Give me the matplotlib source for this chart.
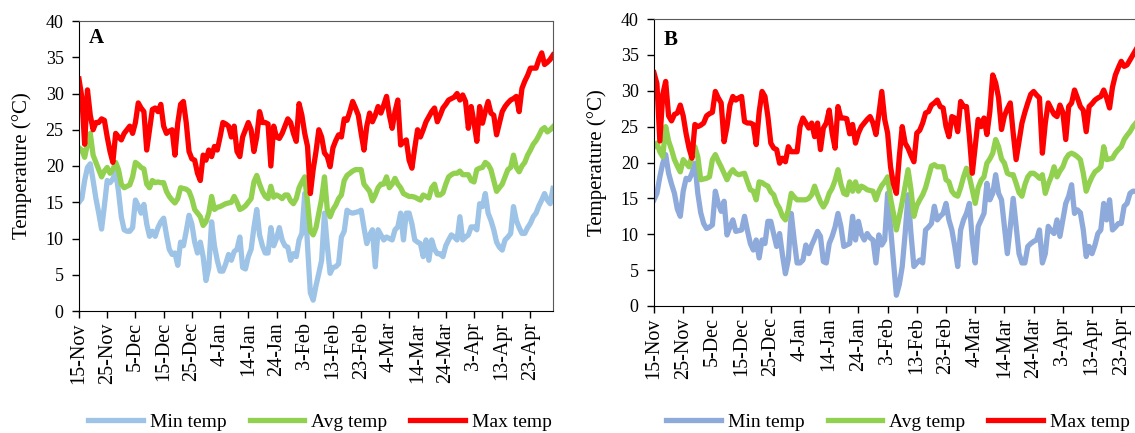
import matplotlib
matplotlib.use("Agg")
import matplotlib.pyplot as plt
import numpy as np

plt.rcParams['font.family'] = ['Liberation Serif', 'DejaVu Serif']

tick_labels = ["15-Nov", "25-Nov", "5-Dec", "15-Dec", "25-Dec", "4-Jan", "14-Jan", "24-Jan",
               "3-Feb", "13-Feb", "23-Feb", "4-Mar", "14-Mar", "24-Mar", "3-Apr", "13-Apr", "23-Apr"]

# panel A (daily values from 15-Nov)
a_max = [32, 29.5, 23, 30.5, 27, 25, 26, 26, 26.5, 26.3,
         24, 22, 20.5, 24.5, 24, 23.6, 24.5, 25, 25.5, 24.5,
         26, 28.7, 28, 27.5, 22.2, 25, 27.8, 28, 27.5, 28.5,
         25.5, 24.5, 24.8, 25, 21.5, 25.9, 28.5, 28.9, 26, 22,
         21, 20.8, 19, 18, 21.5, 20.8, 22.2, 21.3, 22.7, 22.2,
         24, 26, 25.8, 25.5, 24, 25.5, 22, 21.3, 24, 25,
         26, 25, 22, 24, 27.5, 26, 26, 25.8, 20, 25.5,
         24, 23.8, 24.5, 25.5, 26.5, 26, 24.5, 23.4, 28.6, 27,
         24.5, 22.7, 16.2, 19.5, 22, 25, 24, 21.8, 21.3, 19.9,
         22.5, 23.5, 24.3, 24, 26.5, 26.3, 27.5, 28.9, 28, 27,
         24.5, 22.2, 25.5, 27.3, 26.1, 27, 28.2, 27.3, 28.4, 29.6,
         27, 25.2, 27.5, 29.1, 22.9, 23.3, 23.6, 20.8, 19.7, 22.5,
         25, 24, 25, 26.1, 26.8, 27.5, 28, 26.1, 27, 28,
         28.5, 29.1, 29.3, 29.5, 30, 29.1, 29.8, 28.9, 25.2, 28.2,
         26, 23.4, 28.2, 25.9, 27.5, 28.9, 27.3, 27, 24.3, 25.9,
         27.5, 28.2, 28.7, 29.1, 29.3, 29.6, 27.5, 30.7, 31.7, 32.5,
         33.5, 33.5, 33.5, 34.7, 35.6, 34, 34.3, 34.7, 35.3]
a_avg = [22.5, 22.2, 21.2, 23, 24.5, 21.5, 20.5, 19.5, 18.5, 19.3,
         19.8, 19, 19.5, 20.5, 19.5, 17.5, 17, 17.2, 17.4, 18.5,
         20.5, 20.2, 19.8, 19.6, 17.5, 17, 18, 17.7, 17.8, 17.7,
         17.7, 16.5, 15.8, 15.3, 14.9, 15.5, 17, 16.9, 16.8, 16.5,
         15.5, 14, 13.5, 13, 11.8, 12.3, 13.5, 15.8, 14, 14.3,
         14.4, 14.6, 14.8, 14.9, 15, 15.8, 15, 14, 14.2, 14.5,
         15, 15.5, 17.8, 18.7, 17.5, 16.5, 15.8, 15.5, 17.2, 15.7,
         16, 15.8, 15.5, 16, 16, 15.2, 14.8, 15.5, 17, 17.8,
         18.5, 15, 11, 10.5, 11.5, 13.5, 15.5, 18.5, 14, 13,
         14, 14.6, 15.5, 16, 18, 18.7, 19, 19.3, 19.5, 19.5,
         19.5, 17.5, 17, 16.5, 15.2, 16, 17, 17.5, 17.5, 18.5,
         17, 17.5, 18.3, 17.5, 17, 16.2, 16, 15.8, 15.8, 15.7,
         15.5, 15.3, 16, 15.8, 15.6, 17, 17.5, 16, 16, 16.3,
         17.5, 18.5, 18.8, 19, 19, 19.3, 18.8, 18.8, 18.8, 18,
         17.8, 19.5, 19.7, 19.8, 20.5, 20.2, 19.5, 18, 16.5, 17,
         17.5, 18.5, 19.5, 19.8, 21.5, 19.8, 19.2, 20, 20.5, 21.5,
         22.2, 23, 23.5, 24.2, 25, 25.3, 24.7, 25, 25.4]
a_min = [15, 15.5, 18, 19.8, 20.3, 18, 15.5, 13.5, 11.3, 14.5,
         18, 17.7, 18.2, 19.2, 16.5, 13, 11.2, 11, 11, 11.5,
         15.3, 14.5, 13.5, 14.7, 12, 10.3, 11, 10.3, 11.5, 12.3,
         12.8, 10.5, 8.5, 7.8, 8, 6.3, 9.5, 9, 11, 13.2,
         12, 9.5, 8, 9.5, 7.5, 4.2, 6, 12.3, 9, 7,
         5.5, 5.5, 6.5, 7.8, 7, 8.2, 8.5, 10.2, 6, 5.8,
         7.5, 8.5, 11.5, 14, 10.5, 9, 8, 8, 11.5, 9,
         10, 11.5, 9.8, 9, 8.8, 7, 7.9, 7.5, 9.8, 10.7,
         16.2, 9, 2.5, 1.5, 3.5, 5.2, 7, 13.5, 9, 5.2,
         6, 6.1, 6.5, 10.2, 11, 13.9, 13.6, 13.5, 13.6, 13.7,
         13.9, 11.5, 9.3, 10.5, 11.2, 6.1, 11.2, 10.5, 9.8, 10.2,
         10, 9.8, 11.2, 11.6, 13.5, 9.8, 13.5, 13.5, 12, 9.8,
         9.5, 9.3, 7.5, 9.8, 7, 9.8, 8.5, 7.9, 7.9, 7.5,
         9, 9.8, 10.5, 10.2, 9.8, 13, 9.8, 10.2, 10.5, 11.6,
         11.6, 11.2, 14.8, 14.4, 16.2, 13.5, 12.5, 11.2, 9.5, 8.8,
         8.4, 9.8, 10.2, 10.7, 14.4, 12.5, 11.5, 10.7, 10.7, 11.5,
         12.1, 13, 13.5, 14.5, 15.3, 16.2, 15.3, 14.8, 16.9]

# panel B (daily values from 15-Nov, right end cut off in the original)
b_max = [32.5, 31, 23, 29.5, 31.3, 26.5, 25.8, 26.7, 26.9, 28,
         26.5, 24, 22, 20.6, 25.3, 25, 25.2, 25.5, 26.5, 26.8,
         27, 29.9, 29, 28.3, 22.9, 25, 28, 29.2, 28.7, 29,
         29.2, 25.7, 25.5, 25.5, 25.3, 22.5, 27, 29.9, 29.2, 26.4,
         22.7, 22, 21.8, 19.9, 20.6, 20.1, 22.2, 21.5, 21.5, 21.5,
         25, 26.2, 25.5, 24.8, 25.5, 23.6, 25.5, 21.8, 24.8, 25.5,
         27.3, 24.1, 22, 27.8, 26.2, 26.2, 26.1, 24, 25.3, 22.7,
         24.1, 25, 25.5, 26, 26.4, 25.5, 23.9, 26.7, 29.9, 26,
         24.1, 19.4, 17, 15.7, 20.8, 25, 22.7, 22, 21, 20.1,
         24.1, 24.5, 25.5, 26.9, 27.1, 28, 28.3, 28.7, 27.8, 27.6,
         25, 23.6, 26.4, 26.2, 24.3, 28.5, 27.8, 27.8, 23.6, 18.5,
         22.2, 26, 25, 26.2, 23.9, 27.1, 32.2, 31.1, 29, 24.6,
         26.5, 27.5, 28.3, 24.1, 20.4, 23, 25.5, 27, 28.3, 29.5,
         29.9, 29.4, 29, 21.3, 25.5, 28.3, 27.5, 26.7, 26.4, 28,
         27, 23.2, 27.8, 28.3, 30.1, 29, 27.8, 27.3, 24.3, 27.8,
         28.2, 28.7, 29, 29.2, 30.1, 29, 27.6, 30.5, 32.2, 33.2,
         34.1, 33.4, 33.6, 34.3, 35, 35.7]
b_avg = [22.2, 22.7, 21.5, 20.8, 25, 23, 21.8, 20.4, 19.5, 18.7,
         20.4, 19.9, 19.4, 21, 22.2, 20.8, 17.6, 17.7, 17.8, 18,
         20.4, 21.1, 20.2, 19.4, 18.5, 17.6, 18.5, 19, 18.5, 18.3,
         18.4, 18.5, 17.3, 16.2, 16, 14.8, 17.3, 17.2, 16.9, 16.7,
         15.9, 15.5, 14.3, 13.6, 12.5, 12, 13.4, 15.7, 15.2, 14.8,
         14.8, 14.8, 14.8, 15, 15.5, 16.7, 15.5, 14.5, 13.8, 14.5,
         15.7, 16.4, 17.5, 19, 17, 15.7, 15.5, 17.3, 16, 17.3,
         16, 16.7, 16.5, 16.2, 16.1, 16, 14.8, 16, 16.8, 17.3,
         18, 15, 12.9, 10.6, 12.5, 14.5, 16.7, 19, 16.2, 12.5,
         14, 14.8, 15.5, 16.5, 18, 19.5, 19.7, 19.4, 19.4, 19.4,
         17.6, 17.3, 16, 15.5, 15.3, 16.5, 18, 19.2, 18, 16.2,
         14.3, 16.5, 17.5, 18, 19.9, 20.5, 21.3, 23.2, 22.2, 20.5,
         19.9, 18.5, 18.3, 18.3, 17.1, 15.8, 15.3, 16.9, 18, 18.5,
         18.5, 18.2, 17.8, 18.3, 15.7, 17, 18, 19.4, 18, 18.8,
         19.4, 20.5, 21.1, 21.3, 21.1, 20.8, 20.4, 18.5, 16, 17.1,
         18, 18.7, 19, 19.4, 22.2, 20.4, 20.5, 20.6, 21.3, 21.8,
         22.2, 23.2, 23.8, 24.3, 25, 25.5]
b_min = [14.8, 15.7, 18, 19.9, 21.1, 18.5, 17, 15.7, 13.5, 12.5,
         16, 17.8, 17.6, 18.5, 19.9, 15.7, 13, 11.5, 10.8, 11,
         11.3, 16, 14.3, 13.2, 14.6, 9.9, 11, 12, 10.4, 10.5,
         10.6, 12.5, 10.5, 8.7, 7.8, 9.2, 6.7, 9.2, 8.7, 11.8,
         11.8, 10, 8.3, 10.1, 7.1, 4.5, 6.5, 12.9, 9.2, 6,
         6, 6.4, 8.5, 7.3, 8.5, 9.4, 10.4, 9.7, 6.2, 6,
         8.7, 9.7, 11, 12.9, 11.1, 8.3, 8.5, 8.7, 12.5, 9.2,
         11.8, 10, 9.2, 10.1, 9.5, 9.2, 6, 9.9, 8.5, 9.2,
         15.7, 11, 6.4, 1.5, 3, 5.5, 10.1, 15.5, 10.1, 5.5,
         6, 6.4, 6, 10.6, 11, 11.5, 13.9, 12, 12.5, 12.9,
         14.3, 12, 10.6, 8.3, 5.5, 10.6, 12, 12.9, 14.3, 9.2,
         6, 11.1, 12, 12.9, 17.1, 14.8, 15.7, 18.3, 15.7, 14.8,
         11.1, 7.3, 11, 15, 11.1, 7.3, 6, 6, 8.3, 8.7,
         9, 9.2, 10.6, 6, 7.3, 11.1, 10.5, 10.1, 12, 9.7,
         12, 14.3, 15.3, 16.9, 12.9, 13.4, 13, 10.6, 6.9, 8.3,
         7.3, 8.5, 10.1, 10.6, 14.3, 12, 14.8, 10.6, 11, 11.5,
         11.5, 13.9, 14.3, 15.7, 16, 16]

fig = plt.figure(figsize=(11.35, 4.33), dpi=100)
ax_a = fig.add_axes([79 / 1135, 122 / 433, 474 / 1135, 290 / 433])
ax_b = fig.add_axes([654 / 1135, 127 / 433, 490.6 / 1135, 287 / 433])


def draw_panel(ax, tmin, tavg, tmax, min_color, letter, letter_y):
    ax.plot(np.arange(len(tmin)), tmin, color=min_color, lw=3.8, label="Min temp", solid_joinstyle="round")
    ax.plot(np.arange(len(tavg)), tavg, color="#92D050", lw=3.8, label="Avg temp", solid_joinstyle="round")
    ax.plot(np.arange(len(tmax)), tmax, color="#FF0000", lw=3.8, label="Max temp", solid_joinstyle="round")
    ax.set_xlim(0, 168)
    ax.set_ylim(0, 40)
    ax.set_yticks(range(0, 41, 5))
    ax.set_xticks(np.arange(0, 170, 10))
    ax.set_xticklabels(tick_labels, rotation=90, fontsize=14.5)
    ax.tick_params(axis="y", labelsize=13, length=5, width=1, pad=6, direction="out")
    ax.tick_params(axis="x", length=5, width=1, pad=3, direction="out")
    ax.set_ylabel("Temperature (\u00b0C)", fontsize=15, labelpad=10)
    for side in ["top", "right"]:
        ax.spines[side].set_color("#595959")
    ax.text(0.02, letter_y, letter, transform=ax.transAxes, fontsize=15, fontweight="bold",
            va="top", ha="left")
    return ax


draw_panel(ax_a, a_min, a_avg, a_max, "#9DC3E6", "A", 0.975)
draw_panel(ax_b, b_min, b_avg, b_max, "#8EAADB", "B", 0.962)

for ax, cx in [(ax_a, 320 / 1135), (ax_b, 898 / 1135)]:
    h, l = ax.get_legend_handles_labels()
    fig.legend(h, l, loc="center", bbox_to_anchor=(cx, 11 / 433), ncol=3, frameon=False,
               fontsize=14, handlelength=2.8, handletextpad=0.35, columnspacing=1.2,
               borderaxespad=0, borderpad=0)

fig.savefig("out.png", dpi=100)
